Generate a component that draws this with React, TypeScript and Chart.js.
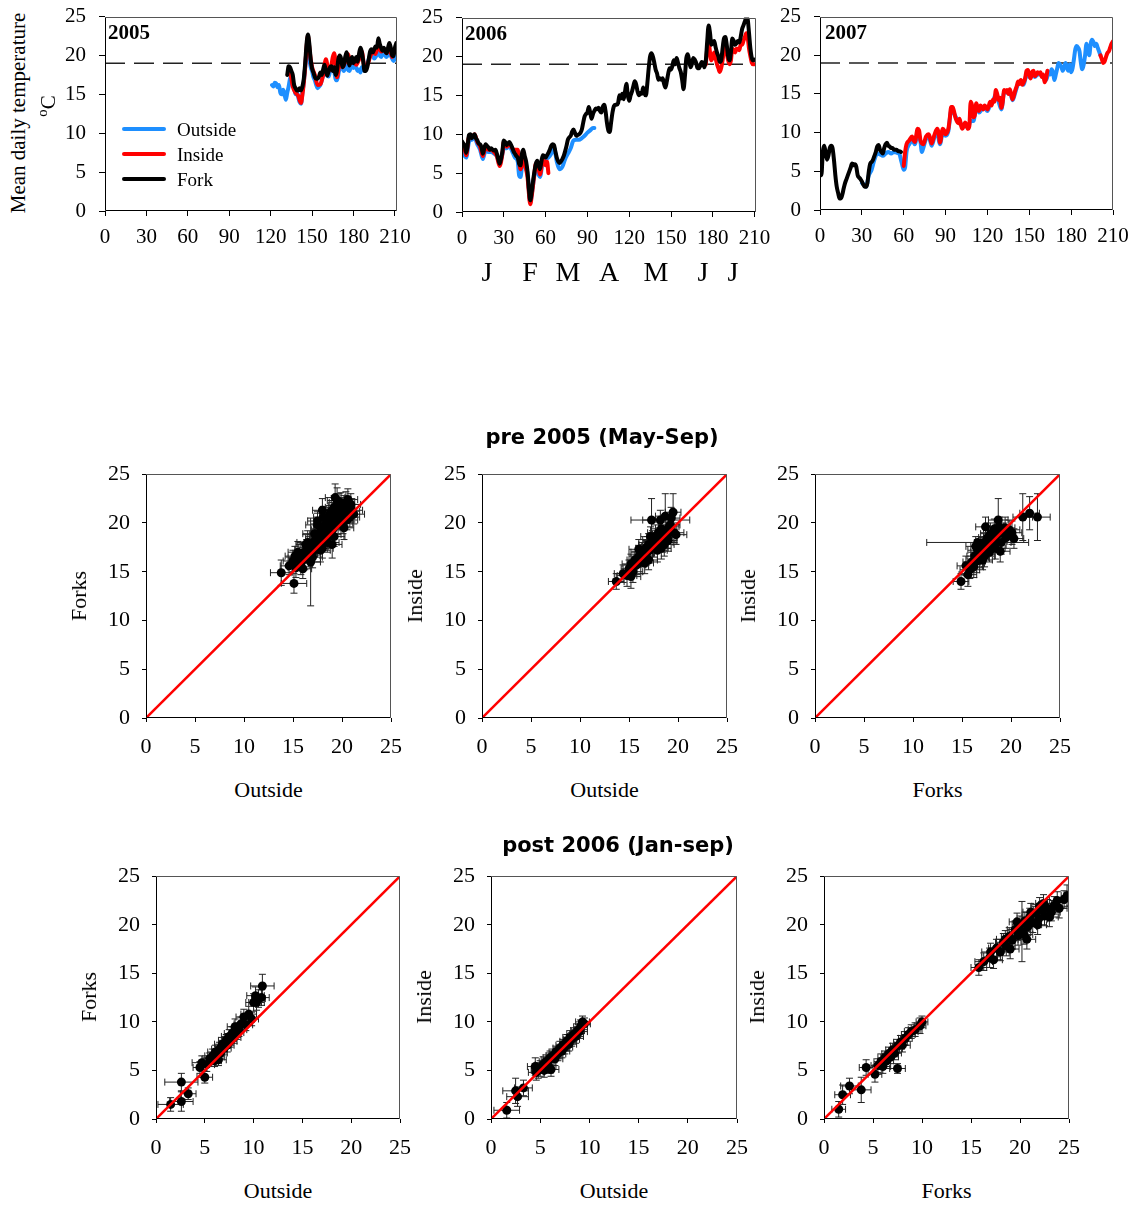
import React, { useEffect, useRef } from 'react';
import { Chart, registerables } from 'chart.js';

Chart.register(...registerables);

type Pt = [number, number];
type SP = [number, number, number, number]; // x, y, xErr, yErr

const SERIF = '"Liberation Serif", "Times New Roman", serif';
const SANS = '"DejaVu Sans", Verdana, sans-serif';
const BLUE = '#1E8FFF';
const RED = '#FF0000';
const BLACK = '#000000';

// ---------- time series (day of year, mean daily temperature) ----------
const timeTicks = [0, 30, 60, 90, 120, 150, 180, 210];
const tempTicks = [0, 5, 10, 15, 20, 25];
const THRESHOLD = 19;
const years = ['2005', '2006', '2007'];
const months = ['J', 'F', 'M', 'A', 'M', 'J', 'J'];
const legendNames = ['Outside', 'Inside', 'Fork'];

const outside2005: Pt[] = [[121,16.2],[122,16.0],[123,16.5],[124,16.4],[125,15.9],[126,16.2],[127,15.2],[128,15.0],[129,15.6],[130,15.0],[131,14.3],[132,15.2],[133,16.0],[134,17.0],[135,17.3],[136,16.6],[137,15.8],[138,15.0],[139,15.3],[140,14.6],[141,14.0],[142,13.8],[143,15.2],[144,16.6],[145,18.5],[146,20.3],[147,20.0],[148,19.5],[149,18.5],[150,18.0],[151,17.2],[152,16.8],[153,16.2],[154,15.8],[155,16.0],[156,16.2],[157,16.8],[158,17.5],[159,18.0],[160,17.8],[161,17.4],[162,17.3],[163,18.0],[164,18.4],[165,18.6],[166,18.0],[167,17.0],[168,16.8],[169,17.5],[170,18.5],[171,19.0],[172,18.3],[173,18.0],[174,18.5],[175,19.0],[176,18.2],[177,18.0],[178,18.5],[179,19.0],[180,18.4],[181,18.8],[182,18.4],[183,18.0],[184,18.2],[185,17.8],[186,18.5],[187,18.4],[188,18.0],[189,18.5],[190,19.0],[191,19.5],[192,20.0],[193,20.4],[194,20.0],[195,19.6],[196,19.8],[197,20.2],[198,20.6],[199,20.0],[200,19.8],[201,20.3],[202,20.5],[203,20.0],[204,19.8],[205,20.2],[206,20.5],[207,20.0],[208,19.6],[209,19.3],[210,19.8],[211,19.5]];
const inside2005: Pt[] = [[134,18.0],[135,17.0],[136,16.0],[138,15.2],[140,14.8],[141,14.2],[142,13.9],[143,15.0],[144,16.5],[145,18.5],[146,21.0],[147,22.5],[148,21.0],[149,19.5],[150,18.5],[152,17.5],[154,16.2],[156,16.3],[158,17.5],[160,19.5],[162,18.0],[164,18.8],[165,19.8],[166,20.3],[167,19.0],[168,17.2],[170,19.0],[172,18.5],[174,19.2],[176,20.2],[178,19.0],[180,19.3],[182,18.8],[184,19.5],[186,20.5],[188,18.5],[190,18.8],[192,19.8],[194,20.5],[196,20.2],[198,21.5],[200,20.5],[202,20.8],[204,20.3],[206,21.0],[208,19.8],[210,20.8],[211,20.5]];
const fork2005: Pt[] = [[132,17.5],[133,18.6],[134,18.5],[135,18.0],[136,17.5],[137,16.2],[138,15.8],[139,15.5],[140,15.5],[141,15.8],[142,15.5],[143,16.0],[144,17.0],[145,19.0],[146,21.5],[147,22.7],[148,21.5],[149,19.5],[150,18.3],[151,17.8],[152,17.2],[153,17.0],[154,17.0],[155,17.3],[156,17.8],[157,17.5],[158,18.2],[159,18.8],[160,18.0],[161,17.4],[162,18.0],[163,18.5],[164,18.6],[165,18.0],[166,18.5],[167,17.5],[168,18.0],[169,19.5],[170,20.0],[171,19.6],[172,18.5],[173,18.8],[174,19.8],[175,20.4],[176,19.5],[177,18.7],[178,19.3],[179,19.8],[180,19.0],[181,19.4],[182,19.8],[183,19.2],[184,20.2],[185,21.0],[186,20.5],[187,19.3],[188,18.0],[189,18.0],[190,18.5],[191,19.5],[192,20.5],[193,20.8],[194,20.4],[195,20.8],[196,21.2],[197,21.0],[198,22.2],[199,21.5],[200,21.0],[201,20.6],[202,21.0],[203,20.5],[204,20.3],[205,21.0],[206,21.6],[207,21.0],[208,20.0],[209,19.9],[210,21.0],[211,21.6]];

const outside2006: Pt[] = [[0,7.8],[2,7.2],[3,7.0],[5,9.0],[7,9.3],[9,9.5],[11,8.7],[13,8.0],[15,6.8],[17,8.0],[19,7.7],[21,7.7],[23,7.5],[25,7.2],[27,6.2],[29,7.5],[30,8.3],[32,8.2],[34,8.5],[36,7.8],[38,7.0],[40,6.5],[41,4.7],[42,4.5],[43,5.8],[44,6.8],[46,5.5],[47,5.0],[49,1.2],[50,2.2],[52,4.8],[53,5.8],[55,4.8],[56,4.5],[58,6.5],[60,6.8],[62,7.0],[64,7.5],[66,8.3],[68,6.5],[70,5.5],[72,5.8],[74,6.8],[76,7.5],[78,8.2],[80,9.2],[82,9.3],[84,9.3],[86,9.5],[88,9.8],[90,10.2],[92,10.5],[94,10.8],[95,10.8]];
const inside2006a: Pt[] = [[0,8.5],[2,8.0],[3,7.3],[5,9.6],[7,9.6],[9,10.0],[11,9.0],[13,8.4],[15,7.2],[17,8.4],[19,8.0],[21,8.0],[23,7.7],[25,7.2],[27,5.9],[29,7.5],[30,9.0],[32,8.4],[34,8.8],[36,8.2],[38,8.0],[40,8.0],[41,6.5],[42,5.5],[43,6.0],[44,7.3],[46,5.5],[47,4.5],[49,1.0],[50,2.0],[52,5.0],[53,6.2],[55,5.5],[56,4.8],[58,6.8],[60,6.0],[61,6.5],[62,5.0]];
const inside2006b: Pt[] = [[175,19.0],[176,21.0],[177,22.0],[178,20.5],[179,19.5],[180,20.0],[181,20.5],[182,19.8],[183,19.0],[184,18.5],[185,18.0],[186,18.5],[187,19.5],[188,20.8],[189,21.5],[190,20.5],[191,19.5],[192,19.0],[193,19.5],[194,21.0],[195,20.8],[196,20.5],[197,21.0],[198,21.0],[199,20.8],[200,21.5],[201,21.5],[202,22.0],[203,22.5],[204,23.0],[205,22.5],[206,21.0],[207,20.0],[208,19.2],[209,19.0],[210,19.0]];
const fork2006: Pt[] = [[0,9.1],[1,8.8],[2,8.5],[3,7.6],[4,8.5],[5,9.9],[6,10.0],[7,9.5],[8,9.8],[9,10.0],[10,9.5],[11,9.2],[12,8.8],[13,8.7],[14,8.3],[15,7.5],[16,8.2],[17,8.7],[18,8.5],[19,8.3],[20,8.0],[21,8.2],[22,8.0],[23,7.9],[24,8.0],[25,7.5],[26,6.8],[27,6.2],[28,6.8],[29,7.8],[30,9.2],[31,9.0],[32,8.6],[33,8.8],[34,9.0],[35,8.7],[36,8.3],[37,7.8],[38,7.5],[39,7.2],[40,7.0],[41,6.2],[42,6.0],[43,7.5],[44,8.0],[45,7.2],[46,6.5],[47,5.2],[48,3.0],[49,1.5],[50,2.5],[51,4.0],[52,5.2],[53,6.2],[54,6.6],[55,6.0],[56,5.5],[57,6.5],[58,7.3],[59,7.2],[60,7.0],[61,7.3],[62,7.6],[63,8.0],[64,8.5],[65,8.7],[66,8.6],[67,7.8],[68,7.0],[69,6.5],[70,6.3],[71,6.5],[72,6.8],[73,7.2],[74,7.8],[75,8.5],[76,9.3],[77,9.6],[78,9.8],[79,10.3],[80,10.6],[81,10.2],[82,9.8],[83,9.9],[84,10.0],[85,10.2],[86,10.6],[87,11.5],[88,12.3],[89,12.6],[90,12.8],[91,13.5],[92,12.8],[93,12.0],[94,12.6],[95,13.0],[96,13.3],[97,13.2],[98,13.4],[99,13.0],[100,12.8],[101,13.5],[102,13.8],[103,13.0],[104,11.5],[105,10.5],[106,10.3],[107,11.5],[108,12.8],[109,13.6],[110,13.8],[111,13.8],[112,14.0],[113,15.0],[114,14.6],[115,15.2],[116,14.5],[117,15.5],[118,16.5],[119,15.0],[120,14.3],[121,15.0],[122,15.5],[123,16.2],[124,16.8],[125,16.4],[126,15.5],[127,15.0],[128,15.3],[129,15.2],[130,16.0],[131,15.2],[132,15.0],[133,16.5],[134,18.5],[135,20.0],[136,20.4],[137,20.0],[138,19.2],[139,18.3],[140,17.8],[141,17.0],[142,17.2],[143,17.0],[144,17.2],[145,16.5],[146,16.0],[147,16.8],[148,17.8],[149,18.5],[150,18.3],[151,18.8],[152,19.5],[153,19.0],[154,19.8],[155,19.2],[156,18.5],[157,18.0],[158,17.0],[159,15.8],[160,17.5],[161,19.8],[162,20.3],[163,19.5],[164,18.6],[165,19.0],[166,19.8],[167,19.6],[168,19.2],[169,18.5],[170,18.5],[171,18.8],[172,19.3],[173,19.2],[174,18.6],[175,19.5],[176,22.0],[177,24.0],[178,23.0],[179,21.5],[180,21.8],[181,22.0],[182,21.2],[183,20.5],[184,20.0],[185,19.3],[186,19.5],[187,21.0],[188,22.3],[189,22.5],[190,21.5],[191,20.0],[192,19.5],[193,20.5],[194,22.3],[195,22.0],[196,21.5],[197,21.7],[198,22.0],[199,21.8],[200,22.5],[201,23.5],[202,24.0],[203,24.5],[204,25.0],[205,24.8],[206,23.0],[207,21.0],[208,19.8],[209,19.5],[210,19.6]];

const outside2007: Pt[] = [[30,3.5],[32,3.2],[33,3.0],[35,4.5],[37,5.2],[39,6.5],[41,7.3],[43,7.2],[45,7.0],[47,7.3],[49,7.5],[51,7.3],[53,7.5],[55,7.4],[57,7.2],[58,6.5],[59,5.8],[60,5.2],[61,5.5],[62,7.5],[64,8.5],[66,9.0],[68,8.5],[70,10.0],[72,8.8],[73,7.5],[74,8.0],[76,9.2],[78,9.5],[80,8.3],[82,9.4],[84,10.0],[86,8.5],[88,10.0],[90,9.6],[92,10.2],[94,12.8],[96,12.5],[98,11.8],[100,11.5],[102,10.8],[104,11.0],[106,10.6],[108,11.5],[110,11.5],[112,13.5],[114,12.6],[116,13.0],[118,13.2],[120,12.8],[122,13.6],[124,14.0],[126,15.0],[128,14.0],[130,13.0],[132,15.2],[134,15.2],[136,15.3],[138,14.2],[140,15.2],[142,16.3],[144,16.5],[146,16.2],[148,17.5],[150,17.2],[152,17.5],[154,17.2],[156,17.5],[158,17.5],[160,17.2],[162,16.8],[164,17.8],[165,17.5],[166,18.2],[167,17.8],[168,16.8],[169,17.5],[170,18.3],[171,19.0],[172,18.8],[173,18.5],[174,18.0],[175,18.5],[176,19.0],[177,18.4],[178,18.0],[179,18.8],[180,17.8],[181,18.3],[182,19.5],[183,20.8],[184,21.2],[185,21.0],[186,20.5],[187,19.0],[188,18.2],[189,18.8],[190,20.0],[191,21.5],[192,20.5],[193,20.0],[194,21.5],[195,22.0],[196,21.7],[197,21.2],[198,21.5],[199,21.0],[200,20.5],[201,20.0]];
const inside2007a: Pt[] = [[60,5.7],[61,7.5],[62,8.5],[64,9.0],[66,9.5],[67,9.0],[68,8.8],[70,10.5],[71,10.3],[72,9.0],[74,8.5],[76,9.5],[78,9.8],[80,8.6],[82,9.7],[84,10.5],[85,10.0],[86,8.7],[88,10.5],[89,10.3],[90,9.8],[92,10.5],[93,11.8],[94,13.3],[95,13.3],[96,12.8],[97,12.0],[98,11.5],[99,11.2],[100,11.8],[101,11.0],[102,10.5],[103,10.8],[104,11.3],[105,11.0],[106,10.5],[107,10.8],[108,14.0],[109,13.5],[110,12.0],[111,12.3],[112,13.8],[113,13.2],[114,12.8],[115,13.5],[116,13.3],[117,13.0],[118,13.5],[119,13.3],[120,13.0],[121,13.5],[122,14.0],[123,13.5],[124,14.3],[125,14.0],[126,15.5],[127,15.0],[128,14.2],[129,14.5],[130,13.2],[131,14.0],[132,15.5],[133,15.3],[134,15.5],[135,15.0],[136,15.6],[137,15.0],[138,14.3],[139,14.8],[140,15.5],[141,16.0],[142,16.6],[143,16.3],[144,16.8],[145,16.2],[146,16.5],[147,17.0],[148,18.0],[149,18.1],[150,17.5],[151,17.0],[152,17.8],[153,18.0],[154,17.3],[155,17.5],[156,17.8],[157,17.6],[158,17.8],[159,17.2],[160,17.5],[161,16.5],[162,17.0],[163,18.0]];
const inside2007b: Pt[] = [[201,20.0],[202,19.5],[203,19.0],[204,19.2],[205,19.8],[206,20.3],[207,20.5],[208,21.0],[209,21.5],[210,21.8]];
const fork2007: Pt[] = [[0,4.8],[1,4.5],[2,7.5],[3,8.3],[4,7.5],[5,6.5],[6,7.0],[7,8.0],[8,8.3],[9,8.0],[10,6.5],[11,4.5],[12,3.0],[13,2.2],[14,1.5],[15,1.5],[16,2.0],[17,2.8],[18,3.5],[19,4.0],[20,4.5],[21,5.0],[22,5.5],[23,6.0],[24,5.8],[25,5.9],[26,5.6],[27,4.5],[28,4.2],[29,4.0],[30,3.7],[31,3.3],[32,3.0],[33,3.0],[34,3.5],[35,5.0],[36,6.0],[37,6.2],[38,6.5],[39,7.0],[40,7.5],[41,8.2],[42,8.4],[43,7.8],[44,7.5],[45,7.3],[46,8.0],[47,8.5],[48,8.7],[49,8.3],[50,8.2],[51,8.0],[52,8.0],[53,7.8],[54,7.8],[55,7.8],[56,7.6],[57,7.6],[58,7.5]];

// ---------- scatter comparisons: [x, y, xErr, yErr] ----------
const scatterTicks = [0, 5, 10, 15, 20, 25];
const titlePre = 'pre 2005 (May-Sep)';
const titlePost = 'post 2006 (Jan-sep)';

const preForksVsOutside: SP[] = [[13.8,14.9,1.1,1.3],[15.1,13.8,1.3,1.0],[14.6,15.6,0.9,0.9],[15.0,16.1,1.0,1.1],[15.3,15.4,0.8,1.0],[15.6,16.4,1.1,0.9],[15.8,15.9,0.9,1.2],[16.0,16.9,1.0,1.0],[16.2,16.3,0.8,1.1],[16.4,17.3,1.2,1.0],[16.6,16.8,0.9,1.3],[16.8,16.0,1.0,4.5],[16.9,17.8,1.1,1.0],[17.1,17.2,0.9,1.2],[17.3,18.3,1.0,1.1],[17.4,17.6,1.2,0.9],[17.6,18.8,0.9,1.3],[17.7,18.1,1.1,1.0],[17.9,19.3,1.0,1.2],[18.0,18.5,0.8,1.1],[18.2,19.7,1.1,1.0],[18.3,19.0,1.0,1.3],[18.4,20.3,0.9,1.1],[18.6,19.5,1.2,1.2],[18.7,20.8,1.0,1.0],[18.8,18.8,1.1,1.3],[18.9,21.2,0.9,1.1],[19.0,20.1,1.0,1.2],[19.1,19.4,1.1,1.0],[19.2,21.6,0.9,1.2],[19.3,22.6,1.0,1.4],[19.4,20.6,1.2,1.1],[19.5,21.1,1.0,1.3],[19.6,19.9,0.9,1.0],[19.7,21.8,1.1,1.2],[19.8,20.4,1.0,1.1],[19.9,22.1,1.2,1.0],[20.0,21.0,0.9,1.2],[20.1,20.0,1.0,1.1],[20.2,21.5,1.1,1.3],[20.3,20.7,1.0,1.0],[20.4,22.0,0.9,1.2],[20.6,21.2,1.2,1.1],[20.8,20.6,1.0,1.0],[21.0,21.3,1.1,1.2],[17.5,19.8,1.2,1.2],[19.0,17.8,1.0,1.4],[18.0,17.4,1.1,1.0],[15.5,17.0,1.0,1.1],[16.0,15.3,0.9,1.0],[16.5,18.0,1.1,1.2],[17.0,16.5,1.0,1.1],[17.2,18.9,1.2,1.0],[17.8,17.2,1.0,1.2],[18.1,20.6,1.0,1.1],[18.5,18.0,1.2,1.0],[18.9,19.9,1.0,1.2],[19.2,18.6,1.1,1.0],[19.5,22.3,1.0,1.3],[19.8,21.0,1.2,1.0],[20.2,19.5,1.0,1.2],[20.5,20.3,1.1,1.0],[20.9,21.9,1.0,1.1],[21.2,20.9,1.1,1.0],[18.0,21.3,1.0,1.2],[17.5,20.2,1.0,1.0],[16.3,17.8,1.0,1.0],[19.6,20.8,1.1,1.2],[15.2,16.6,1.0,1.0],[16.7,17.5,1.1,1.1],[20.6,22.4,1.0,1.1]];
const preInsideVsOutside: SP[] = [[13.7,14.0,0.8,0.8],[14.4,14.8,0.9,0.9],[14.8,14.6,1.0,1.1],[15.0,15.3,0.8,0.9],[15.2,15.8,0.9,1.0],[15.4,15.0,1.0,1.1],[15.6,16.2,0.8,0.9],[15.8,15.7,0.9,1.0],[16.0,16.6,1.0,1.1],[16.2,16.0,0.8,1.2],[16.3,17.0,1.1,1.0],[16.5,16.5,0.9,1.0],[16.7,17.4,1.0,0.9],[16.8,16.9,0.8,1.2],[17.0,17.8,1.0,1.1],[17.1,17.2,0.9,1.0],[17.3,20.3,0.9,2.2],[17.4,18.2,1.0,1.0],[17.5,17.6,1.1,1.1],[17.7,18.6,0.9,1.2],[17.8,18.0,1.0,1.0],[18.0,19.0,1.1,1.1],[18.1,18.3,0.9,1.2],[18.2,20.3,3.0,1.0],[18.3,19.4,1.0,1.1],[18.5,18.7,0.9,1.0],[18.6,17.8,1.0,1.2],[18.7,20.7,1.0,2.3],[18.8,19.1,1.1,1.0],[19.0,18.2,0.9,1.1],[19.1,19.6,1.0,1.0],[19.3,20.5,0.9,1.1],[19.5,21.1,0.8,1.9],[19.6,19.0,1.0,1.0],[19.8,18.8,1.1,1.0],[18.3,17.4,1.0,1.1],[17.0,16.2,0.9,1.0],[15.2,14.5,1.0,1.2],[16.0,17.3,1.0,1.0],[16.6,15.9,0.9,1.1],[17.2,18.6,1.0,1.0],[17.9,17.2,1.0,1.2],[18.4,18.0,1.1,1.0],[18.9,18.5,1.0,1.1],[19.2,19.8,1.0,1.0],[16.9,17.6,0.9,1.0]];
const preInsideVsForks: SP[] = [[14.9,14.0,0.8,0.8],[15.6,14.7,0.9,1.2],[15.4,15.6,0.9,1.0],[15.8,15.2,1.0,0.9],[16.0,16.0,0.9,1.0],[16.2,15.5,1.0,1.1],[16.3,16.6,0.8,1.0],[16.5,16.1,0.9,1.2],[16.6,17.2,1.0,1.0],[16.6,18.0,5.2,0.0],[16.8,16.5,0.9,1.1],[16.9,17.6,1.0,1.0],[17.0,17.0,1.1,1.2],[17.2,18.0,0.9,1.0],[17.3,16.6,1.0,1.1],[17.5,17.5,1.0,1.0],[17.6,18.5,0.9,1.2],[17.8,17.0,1.1,1.0],[17.9,18.9,1.0,1.1],[18.0,17.8,0.9,1.0],[18.2,18.3,1.0,1.2],[18.3,19.4,1.1,1.0],[18.4,17.4,1.0,1.1],[18.6,18.8,0.9,1.0],[18.7,20.3,1.0,2.2],[18.8,19.6,1.1,1.0],[19.0,18.0,1.0,1.2],[19.2,19.0,0.9,1.0],[19.5,18.5,1.0,1.1],[19.8,19.3,1.1,1.0],[20.1,19.0,1.0,1.2],[20.3,18.4,1.0,1.0],[21.2,20.6,1.0,2.4],[21.9,21.0,1.0,1.7],[22.7,20.6,1.3,2.4],[17.4,19.6,1.0,1.0],[18.9,17.1,1.0,1.1],[17.1,16.2,1.0,1.0],[17.7,18.2,1.0,1.1],[18.5,18.1,1.1,1.0],[19.4,19.5,1.0,1.1],[16.4,17.6,1.0,1.0]];

const postForksVsOutside: SP[] = [[1.5,1.5,1.3,0.7],[2.6,1.8,1.2,1.0],[2.6,3.8,1.7,0.9],[3.3,2.6,0.8,0.6],[5.0,4.3,0.8,0.6],[4.5,5.3,0.7,0.6],[4.7,5.8,1.0,0.7],[5.2,5.6,0.8,0.7],[5.5,6.2,0.7,0.6],[5.8,6.5,0.8,0.7],[6.0,6.0,0.7,0.6],[6.1,6.9,0.8,0.7],[6.3,6.4,0.7,0.6],[6.5,7.2,0.8,0.7],[6.6,6.8,0.7,0.6],[6.8,7.7,0.8,0.7],[7.0,7.3,0.7,0.7],[7.2,8.1,0.8,0.6],[7.3,7.6,0.7,0.7],[7.5,8.5,0.8,0.7],[7.6,8.0,0.7,0.6],[7.8,8.8,0.8,0.7],[8.0,8.4,0.7,0.6],[8.1,9.5,0.8,0.8],[8.3,8.9,0.7,0.7],[8.5,9.2,0.8,0.7],[8.7,9.8,0.7,0.7],[9.0,10.5,0.8,0.8],[9.2,9.7,0.7,0.6],[9.5,10.8,0.8,0.8],[9.8,10.3,0.7,0.7],[10.0,12.0,0.8,0.9],[10.2,12.7,0.9,0.9],[10.3,12.0,0.8,0.8],[10.5,12.4,0.7,0.9],[10.8,12.5,0.8,0.8],[10.9,13.7,1.2,1.2],[6.4,6.1,0.8,0.6]];
const postInsideVsOutside: SP[] = [[1.6,0.9,1.3,0.8],[2.5,2.9,1.3,1.3],[2.7,2.3,1.1,1.0],[3.3,3.2,0.9,0.8],[4.5,5.4,0.8,0.9],[4.6,4.8,0.8,0.8],[5.0,5.2,0.9,0.8],[5.3,5.6,0.8,0.8],[5.4,5.0,0.9,0.7],[5.6,5.9,0.7,0.7],[5.8,5.5,0.8,0.8],[6.0,6.3,0.7,0.7],[6.1,5.1,0.8,0.7],[6.3,6.5,0.7,0.7],[6.5,6.2,0.8,0.7],[6.6,6.9,0.7,0.6],[6.8,6.7,0.8,0.7],[7.0,7.3,0.7,0.7],[7.2,7.0,0.8,0.7],[7.3,7.6,0.7,0.6],[7.5,7.4,0.8,0.7],[7.7,8.0,0.7,0.7],[7.9,7.7,0.8,0.7],[8.0,8.4,0.7,0.7],[8.2,8.2,0.8,0.7],[8.4,8.7,0.7,0.7],[8.6,8.5,0.8,0.7],[8.8,9.1,0.7,0.7],[9.0,9.0,0.8,0.7],[9.1,9.5,0.7,0.7],[9.3,10.0,0.7,0.6],[9.5,9.8,0.6,0.6],[5.9,6.1,0.8,0.7],[4.8,5.0,0.7,0.8]];
const postInsideVsForks: SP[] = [[1.5,1.0,0.7,0.8],[1.9,2.5,0.8,1.0],[2.6,3.4,0.9,0.8],[3.8,3.0,1.0,1.3],[4.3,5.3,0.7,0.8],[5.2,4.6,0.7,0.8],[5.5,5.5,0.7,0.7],[5.8,5.9,0.7,0.8],[6.0,5.4,0.8,0.7],[6.2,6.3,0.7,0.7],[6.4,6.0,0.7,0.8],[6.6,6.7,0.7,0.7],[6.8,6.4,0.8,0.7],[7.0,7.1,0.7,0.7],[7.2,6.8,0.7,0.7],[7.5,5.2,0.8,0.5],[7.5,7.5,0.7,0.7],[7.8,7.9,0.7,0.7],[8.0,7.6,0.8,0.7],[8.3,8.3,0.7,0.7],[8.6,8.7,0.7,0.7],[8.9,9.0,0.7,0.7],[9.3,9.2,0.7,0.7],[9.8,9.6,0.6,0.8],[10.0,10.0,0.6,0.6],[15.8,15.6,0.8,0.8],[16.3,16.2,0.9,0.9],[16.9,16.6,0.8,1.0],[17.3,16.4,0.9,0.9],[17.6,17.6,0.8,0.9],[18.0,17.2,0.9,0.9],[18.3,18.2,0.8,0.9],[18.6,17.8,0.9,1.0],[18.9,18.8,0.8,0.9],[19.2,18.4,0.9,0.9],[19.5,19.5,0.8,0.9],[19.8,18.9,0.9,1.0],[20.0,20.0,0.8,0.9],[20.2,19.3,0.9,3.1],[20.5,20.4,0.8,0.9],[20.8,19.8,0.9,0.9],[21.0,20.8,0.8,0.9],[21.3,20.2,0.9,1.0],[21.6,21.2,0.8,0.9],[21.9,20.6,0.9,0.9],[22.2,21.5,0.8,0.9],[22.5,20.9,0.9,1.0],[22.8,21.7,0.8,0.9],[23.2,21.3,0.9,0.9],[23.5,22.0,0.8,0.9],[24.0,21.7,0.8,1.0],[24.5,22.6,0.7,0.9],[24.8,23.0,0.6,1.1],[18.5,18.5,0.9,0.9],[19.0,17.5,0.9,1.0],[19.7,20.3,0.8,0.9],[20.4,19.0,0.9,1.0],[21.1,21.3,0.8,0.9],[21.8,20.0,0.9,1.0],[22.4,22.2,0.8,0.9],[23.0,20.8,0.9,1.0],[23.8,22.5,0.8,0.9],[20.7,18.5,0.9,1.0],[22.0,21.9,0.8,0.9],[17.0,17.2,0.9,0.9]];

// ---------- layout helpers ----------
type Rect = { l: number; t: number; w: number; h: number };
const PAD = { l: 70, t: 24, r: 30, b: 50 };

const framePlugin = {
  id: 'frame',
  afterDraw(chart: any) {
    const { ctx, chartArea: a } = chart;
    const L = Math.round(a.left) + 0.5, R = Math.round(a.right) - 0.5;
    const T = Math.round(a.top) + 0.5, B = Math.round(a.bottom) - 0.5;
    ctx.save();
    ctx.lineWidth = 1;
    ctx.strokeStyle = '#555';
    ctx.beginPath();
    ctx.moveTo(L, T); ctx.lineTo(R, T); ctx.lineTo(R, B);
    ctx.stroke();
    ctx.strokeStyle = '#000';
    ctx.beginPath();
    ctx.moveTo(L, T); ctx.lineTo(L, B); ctx.lineTo(R, B);
    ctx.stroke();
    ctx.restore();
  },
};

const errorBarPlugin = {
  id: 'errorBars',
  beforeDatasetsDraw(chart: any) {
    const { ctx, chartArea: a } = chart;
    const xs = chart.scales.x, ys = chart.scales.y;
    ctx.save();
    ctx.beginPath();
    ctx.rect(a.left, a.top, a.right - a.left, a.bottom - a.top);
    ctx.clip();
    ctx.strokeStyle = '#222';
    ctx.lineWidth = 1;
    const cap = 3.5;
    chart.data.datasets.forEach((ds: any) => {
      if (!ds.errors) return;
      ds.data.forEach((p: any, i: number) => {
        const [xe, ye] = ds.errors[i];
        const px = xs.getPixelForValue(p.x), py = ys.getPixelForValue(p.y);
        ctx.beginPath();
        if (xe > 0) {
          const x1 = xs.getPixelForValue(p.x - xe), x2 = xs.getPixelForValue(p.x + xe);
          ctx.moveTo(x1, py); ctx.lineTo(x2, py);
          ctx.moveTo(x1, py - cap); ctx.lineTo(x1, py + cap);
          ctx.moveTo(x2, py - cap); ctx.lineTo(x2, py + cap);
        }
        if (ye > 0) {
          const y1 = ys.getPixelForValue(p.y - ye), y2 = ys.getPixelForValue(p.y + ye);
          ctx.moveTo(px, y1); ctx.lineTo(px, y2);
          ctx.moveTo(px - cap, y1); ctx.lineTo(px + cap, y1);
          ctx.moveTo(px - cap, y2); ctx.lineTo(px + cap, y2);
        }
        ctx.stroke();
      });
    });
    ctx.restore();
  },
};

function axis(pos: 'x' | 'y', max: number, ticks: number[], size: number, tickLen: number, pad: number) {
  return {
    type: 'linear',
    min: 0,
    max,
    afterBuildTicks: (s: any) => { s.ticks = ticks.map((v) => ({ value: v })); },
    afterFit: (s: any) => { if (pos === 'y') s.width = PAD.l; else s.height = PAD.b; },
    ticks: { color: '#000', font: { family: SERIF, size }, padding: pad, autoSkip: false, maxRotation: 0, callback: (v: any) => String(v) },
    grid: { drawOnChartArea: false, drawTicks: true, tickLength: tickLen, color: '#000', lineWidth: 1 },
    border: { display: false },
  };
}

function baseOptions(xAxis: any, yAxis: any) {
  return {
    responsive: false,
    animation: false,
    events: [],
    layout: { padding: { left: 0, top: PAD.t, right: PAD.r, bottom: 0 } },
    plugins: { legend: { display: false }, tooltip: { enabled: false } },
    scales: { x: xAxis, y: yAxis },
  };
}

const xy = (pts: Pt[]) => pts.map(([x, y]) => ({ x, y }));

function timeConfig(series: { data: Pt[]; color: string; order: number }[], xMax: number) {
  return {
    type: 'line',
    data: {
      datasets: [
        ...series.map((s) => ({
          data: xy(s.data), borderColor: s.color, borderWidth: 4, pointRadius: 0,
          cubicInterpolationMode: 'monotone', order: s.order, borderCapStyle: 'round', borderJoinStyle: 'round',
        })),
        { data: [{ x: 0, y: THRESHOLD }, { x: xMax, y: THRESHOLD }], borderColor: '#222', borderWidth: 1.5, borderDash: [20, 9], pointRadius: 0, order: 10 },
      ],
    },
    options: baseOptions(axis('x', xMax, timeTicks, 21, 5, 9), axis('y', 25, tempTicks, 21, 6, 13)),
    plugins: [framePlugin],
  };
}

function scatterConfig(points: SP[]) {
  return {
    type: 'scatter',
    data: {
      datasets: [
        { data: [{ x: 0, y: 0 }, { x: 25, y: 25 }], showLine: true, borderColor: RED, borderWidth: 2.5, pointRadius: 0, order: 0 },
        { data: points.map((p) => ({ x: p[0], y: p[1] })), errors: points.map((p) => [p[2], p[3]]), backgroundColor: BLACK, borderColor: BLACK, pointRadius: 4.5, borderWidth: 0, order: 1 },
      ],
    },
    options: baseOptions(axis('x', 25, scatterTicks, 22, 4, 12), axis('y', 25, scatterTicks, 22, 4, 12)),
    plugins: [errorBarPlugin, framePlugin],
  };
}

function Panel({ rect, config }: { rect: Rect; config: () => any }) {
  const ref = useRef<HTMLCanvasElement>(null);
  useEffect(() => {
    const chart = new Chart(ref.current as HTMLCanvasElement, config());
    return () => chart.destroy();
  }, []);
  const w = rect.w + PAD.l + PAD.r, h = rect.h + PAD.t + PAD.b;
  return (
    <canvas ref={ref} width={w} height={h}
      style={{ position: 'absolute', left: rect.l - PAD.l, top: rect.t - PAD.t, width: w, height: h }} />
  );
}

function Txt(p: { x: number; y: number; size: number; children: React.ReactNode; bold?: boolean; sans?: boolean; rot?: boolean; left?: boolean }) {
  return (
    <div style={{
      position: 'absolute', left: p.x, top: p.y,
      transform: `translate(${p.left ? '0' : '-50%'}, -50%)${p.rot ? ' rotate(-90deg)' : ''}`,
      fontFamily: p.sans ? SANS : SERIF, fontSize: p.size, fontWeight: p.bold ? 700 : 400,
      whiteSpace: 'nowrap', lineHeight: 1, color: '#000',
    }}>{p.children}</div>
  );
}

const T1: Rect = { l: 105, t: 15, w: 292, h: 196 };
const T2: Rect = { l: 462, t: 16, w: 294, h: 196 };
const T3: Rect = { l: 820, t: 15, w: 293, h: 195 };
const M1: Rect = { l: 146, t: 473, w: 245, h: 245 };
const M2: Rect = { l: 482, t: 473, w: 245, h: 245 };
const M3: Rect = { l: 815, t: 473, w: 245, h: 245 };
const B1: Rect = { l: 156, t: 875, w: 244, h: 244 };
const B2: Rect = { l: 491, t: 875, w: 246, h: 244 };
const B3: Rect = { l: 824, t: 875, w: 245, h: 244 };

const monthX = [487, 530, 568, 609, 656, 703, 733];
const legendColors = [BLUE, RED, BLACK];

const scatterPanels: { rect: Rect; pts: SP[]; xl: string; yl: string }[] = [
  { rect: M1, pts: preForksVsOutside, xl: 'Outside', yl: 'Forks' },
  { rect: M2, pts: preInsideVsOutside, xl: 'Outside', yl: 'Inside' },
  { rect: M3, pts: preInsideVsForks, xl: 'Forks', yl: 'Inside' },
  { rect: B1, pts: postForksVsOutside, xl: 'Outside', yl: 'Forks' },
  { rect: B2, pts: postInsideVsOutside, xl: 'Outside', yl: 'Inside' },
  { rect: B3, pts: postInsideVsForks, xl: 'Forks', yl: 'Inside' },
];

export default function App() {
  return (
    <div style={{ position: 'absolute', left: 0, top: 0, width: 1135, height: 1205, background: '#fff', overflow: 'hidden' }}>
      <Panel rect={T1} config={() => timeConfig([
        { data: outside2005, color: BLUE, order: 3 },
        { data: inside2005, color: RED, order: 2 },
        { data: fork2005, color: BLACK, order: 1 },
      ], 211.5)} />
      <Panel rect={T2} config={() => timeConfig([
        { data: outside2006, color: BLUE, order: 3 },
        { data: inside2006a, color: RED, order: 2 },
        { data: inside2006b, color: RED, order: 2 },
        { data: fork2006, color: BLACK, order: 1 },
      ], 211)} />
      <Panel rect={T3} config={() => timeConfig([
        { data: outside2007, color: BLUE, order: 3 },
        { data: inside2007a, color: RED, order: 2 },
        { data: inside2007b, color: RED, order: 2 },
        { data: fork2007, color: BLACK, order: 1 },
      ], 210)} />
      {scatterPanels.map((p, i) => (
        <Panel key={i} rect={p.rect} config={() => scatterConfig(p.pts)} />
      ))}

      {/* top-row labels */}
      <Txt x={18} y={113} size={21} rot>Mean daily temperature</Txt>
      <Txt x={47} y={106} size={21} rot><sup style={{ fontSize: '0.7em' }}>o</sup>C</Txt>
      <Txt x={108} y={32} size={21} bold left>{years[0]}</Txt>
      <Txt x={465} y={33} size={21} bold left>{years[1]}</Txt>
      <Txt x={825} y={32} size={21} bold left>{years[2]}</Txt>
      {legendNames.map((n, i) => (
        <React.Fragment key={n}>
          <div style={{ position: 'absolute', left: 122, top: 127 + i * 25, width: 44, height: 4, borderRadius: 2, background: legendColors[i] }} />
          <Txt x={177} y={129 + i * 25} size={19} left>{n}</Txt>
        </React.Fragment>
      ))}
      {months.map((m, i) => (
        <Txt key={i} x={monthX[i]} y={272} size={28}>{m}</Txt>
      ))}

      {/* scatter titles */}
      <Txt x={602} y={437} size={21} bold sans>{titlePre}</Txt>
      <Txt x={618} y={845} size={21} bold sans>{titlePost}</Txt>
      {scatterPanels.map((p, i) => (
        <React.Fragment key={'l' + i}>
          <Txt x={p.rect.l + p.rect.w / 2} y={p.rect.t + p.rect.h + 72} size={22}>{p.xl}</Txt>
          <Txt x={p.rect.l - 67} y={p.rect.t + p.rect.h / 2} size={22} rot>{p.yl}</Txt>
        </React.Fragment>
      ))}
    </div>
  );
}
